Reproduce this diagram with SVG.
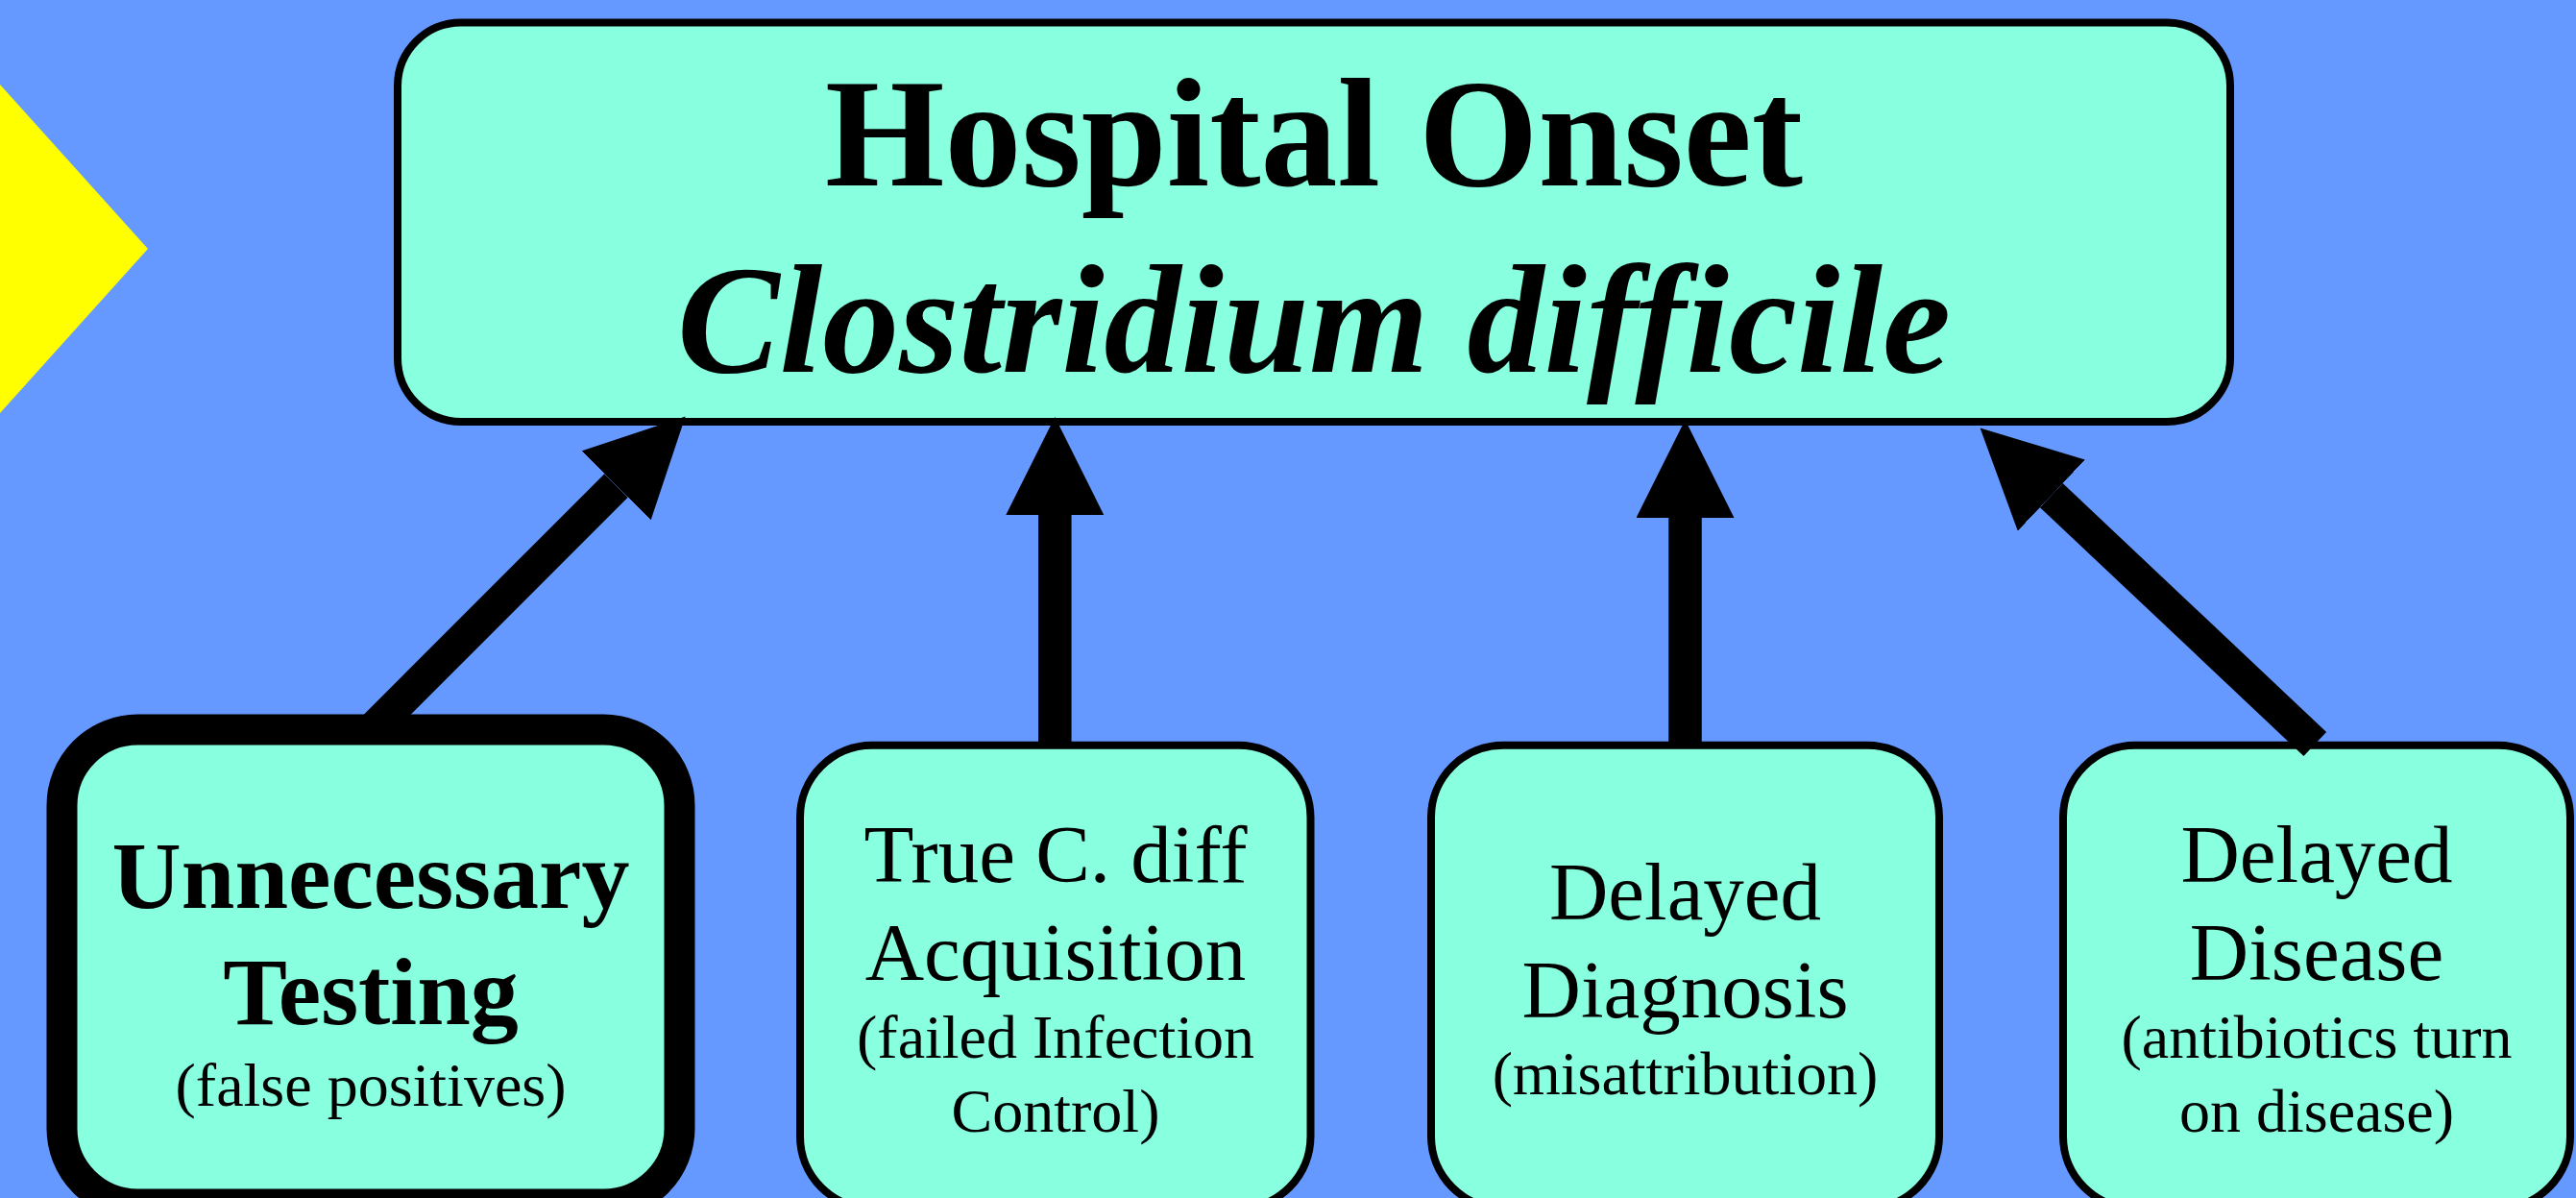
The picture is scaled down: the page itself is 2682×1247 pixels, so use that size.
<svg xmlns="http://www.w3.org/2000/svg" width="2682" height="1247" viewBox="0 0 2682 1247">
  <style>
    .node { fill: #88FFDF; stroke: #000000; stroke-width: 8; }
    .thick { stroke-width: 32; }
    .t { font-family: "Liberation Serif", "Times New Roman", serif; fill: #000000; text-anchor: middle; }
    .title { font-size: 160px; font-weight: bold; }
    .big { font-size: 85px; }
    .bigb { font-size: 100px; font-weight: bold; }
    .small { font-size: 64px; }
    .conn { stroke: #000000; stroke-width: 34.5; fill: none; marker-end: url(#head); }
  </style>
  <defs>
    <marker id="head" viewBox="0 0 102 102" refX="0" refY="51" markerWidth="102" markerHeight="102" markerUnits="userSpaceOnUse" orient="auto">
      <path d="M0,0 L102,51 L0,102 Z" fill="#000000"/>
    </marker>
  </defs>
  <rect x="0" y="0" width="2682" height="1247" fill="#6699FF"/>
  <polygon points="-10,70 0,88 154,259 0,430 -10,448" fill="#FFFF00"/>

  <g id="node-hospital-onset">
    <rect class="node" x="414" y="23.5" width="1908" height="415.5" rx="66" ry="66"/>
    <text class="t title" x="1368" y="193">Hospital Onset</text>
    <text class="t title" x="1368" y="387" font-style="italic">Clostridium difficile</text>
  </g>

  <g id="node-unnecessary-testing">
    <rect class="node thick" x="64.5" y="759.5" width="643" height="494" rx="79" ry="79"/>
    <text class="t bigb" x="386" y="945">Unnecessary</text>
    <text class="t bigb" x="386" y="1066">Testing</text>
    <text class="t small" x="386" y="1151">(false positives)</text>
  </g>

  <g id="node-true-cdiff">
    <rect class="node" x="833" y="775.8" width="531.5" height="482" rx="75" ry="75"/>
    <text class="t big" x="1099" y="918">True C. diff</text>
    <text class="t big" x="1099" y="1020">Acquisition</text>
    <text class="t small" x="1099" y="1101">(failed Infection</text>
    <text class="t small" x="1099" y="1178">Control)</text>
  </g>

  <g id="node-delayed-diagnosis">
    <rect class="node" x="1490" y="775.8" width="529" height="482" rx="75" ry="75"/>
    <text class="t big" x="1754.5" y="957">Delayed</text>
    <text class="t big" x="1754.5" y="1059">Diagnosis</text>
    <text class="t small" x="1754.5" y="1139">(misattribution)</text>
  </g>

  <g id="node-delayed-disease">
    <rect class="node" x="2148" y="775.8" width="528" height="482" rx="75" ry="75"/>
    <text class="t big" x="2412" y="918">Delayed</text>
    <text class="t big" x="2412" y="1020">Disease</text>
    <text class="t small" x="2412" y="1101">(antibiotics turn</text>
    <text class="t small" x="2412" y="1178">on disease)</text>
  </g>

  <g id="connectors">
    <line class="conn" x1="387" y1="760" x2="641.5" y2="505.5"/>
    <line class="conn" x1="1098.3" y1="776" x2="1098.3" y2="536"/>
    <line class="conn" x1="1754.5" y1="776" x2="1754.5" y2="539"/>
    <line class="conn" x1="2410.3" y1="774.5" x2="2135.8" y2="515.6"/>
  </g>
</svg>
